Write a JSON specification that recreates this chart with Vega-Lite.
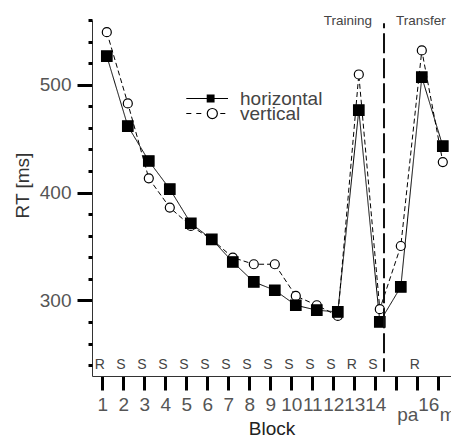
{
  "$schema": "https://vega.github.io/schema/vega-lite/v6.json",
  "width": 359,
  "height": 356,
  "autosize": {"type": "none"},
  "padding": {"left": 92, "top": 20, "right": 0, "bottom": 61},
  "config": {
    "font": "Liberation Sans",
    "view": {"stroke": null},
    "axis": {"grid": false, "labelFont": "Liberation Sans", "titleFont": "Liberation Sans"}
  },
  "datasets": {
    "rt": [
      {"series": "vertical", "block": 1, "rt": 548.7},
      {"series": "vertical", "block": 2, "rt": 482.7},
      {"series": "vertical", "block": 3, "rt": 413.2},
      {"series": "vertical", "block": 4, "rt": 386.1},
      {"series": "vertical", "block": 5, "rt": 369.1},
      {"series": "vertical", "block": 6, "rt": 356.7},
      {"series": "vertical", "block": 7, "rt": 339.8},
      {"series": "vertical", "block": 8, "rt": 333.6},
      {"series": "vertical", "block": 9, "rt": 333.6},
      {"series": "vertical", "block": 10, "rt": 304.2},
      {"series": "vertical", "block": 11, "rt": 295.6},
      {"series": "vertical", "block": 12, "rt": 285.7},
      {"series": "vertical", "block": 13, "rt": 509.5},
      {"series": "vertical", "block": 14, "rt": 291.9},
      {"series": "vertical", "block": 15, "rt": 350.5},
      {"series": "vertical", "block": 16, "rt": 531.8},
      {"series": "vertical", "block": 17, "rt": 428.3},
      {"series": "horizontal", "block": 1, "rt": 526.5},
      {"series": "horizontal", "block": 2, "rt": 461.7},
      {"series": "horizontal", "block": 3, "rt": 429.3},
      {"series": "horizontal", "block": 4, "rt": 403.3},
      {"series": "horizontal", "block": 5, "rt": 371.6},
      {"series": "horizontal", "block": 6, "rt": 356.7},
      {"series": "horizontal", "block": 7, "rt": 335.7},
      {"series": "horizontal", "block": 8, "rt": 317.2},
      {"series": "horizontal", "block": 9, "rt": 309.5},
      {"series": "horizontal", "block": 10, "rt": 295.6},
      {"series": "horizontal", "block": 11, "rt": 291.0},
      {"series": "horizontal", "block": 12, "rt": 289.4},
      {"series": "horizontal", "block": 13, "rt": 476.5},
      {"series": "horizontal", "block": 14, "rt": 280.2},
      {"series": "horizontal", "block": 15, "rt": 312.6},
      {"series": "horizontal", "block": 16, "rt": 507.0},
      {"series": "horizontal", "block": 17, "rt": 443.1}
    ],
    "codes": [
      {"block": 1, "code": "R"},
      {"block": 2, "code": "S"},
      {"block": 3, "code": "S"},
      {"block": 4, "code": "S"},
      {"block": 5, "code": "S"},
      {"block": 6, "code": "S"},
      {"block": 7, "code": "S"},
      {"block": 8, "code": "S"},
      {"block": 9, "code": "S"},
      {"block": 10, "code": "S"},
      {"block": 11, "code": "S"},
      {"block": 12, "code": "S"},
      {"block": 13, "code": "R"},
      {"block": 14, "code": "S"},
      {"block": 16, "code": "R"}
    ],
    "phases": [
      {"phase": "Training", "boundary": 14.2},
      {"phase": "Transfer", "boundary": 14.2}
    ]
  },
  "layer": [
    {
      "data": {"name": "rt"},
      "mark": {"type": "line", "color": "black", "strokeWidth": 1},
      "encoding": {
        "x": {
          "field": "block", "type": "quantitative",
          "scale": {"domain": [0.295, 17.39], "nice": false, "zero": false},
          "axis": {
            "values": [1,2,3,4,5,6,7,8,9,10,11,12,13,14,15,16,17],
            "labelExpr": "datum.value == 15 ? 'pa' : datum.value == 17 ? 'mi' : datum.label",
            "tickSize": 14, "tickWidth": 3, "tickColor": "black", "tickOffset": -4.5,
            "labelPadding": {"condition": {"test": "datum.value == 15 || datum.value == 17", "value": 15}, "value": 5},
            "labelOffset": {"condition": {"test": "datum.value >= 15", "value": 11}, "value": 0},
            "labelFontSize": 19, "labelColor": "#555",
            "labelFlush": false, "labelOverlap": false, "labelBound": false,
            "domainColor": "#333", "domainWidth": 1,
            "title": "Block", "titleFontSize": 19, "titleFontWeight": "normal", "titleColor": "#222",
            "titleBaseline": "alphabetic", "titleY": 58
          }
        },
        "y": {
          "field": "rt", "type": "quantitative",
          "scale": {"domain": [230, 560], "nice": false, "zero": false},
          "axis": {
            "orient": "left",
            "values": [300, 400, 500],
            "tickSize": 15, "tickWidth": 3, "tickColor": "black",
            "labelFontSize": 19, "labelColor": "#555", "labelPadding": 6,
            "domainColor": "#333", "domainWidth": 1,
            "title": "RT [ms]", "titleFontSize": 19, "titleFontWeight": "normal", "titleColor": "#333",
            "titleX": -63.7, "titleY": 165, "titleBaseline": "alphabetic", "titleAngle": 270, "titleAlign": "center"
          }
        },
        "strokeDash": {
          "field": "series", "type": "nominal",
          "scale": {"domain": ["horizontal", "vertical"], "range": [[1, 0], [5, 3]]},
          "legend": null
        }
      }
    },
    {
      "data": {"name": "rt"},
      "mark": {"type": "point", "filled": true, "stroke": "black", "strokeWidth": 1.2, "opacity": 1},
      "encoding": {
        "x": {"field": "block", "type": "quantitative", "axis": null},
        "y": {"field": "rt", "type": "quantitative", "axis": null},
        "shape": {"field": "series", "type": "nominal", "scale": {"domain": ["horizontal", "vertical"], "range": ["square", "circle"]}, "legend": null},
        "fill": {"field": "series", "type": "nominal", "scale": {"domain": ["horizontal", "vertical"], "range": ["black", "white"]}, "legend": null},
        "size": {"field": "series", "type": "nominal", "scale": {"domain": ["horizontal", "vertical"], "range": [110, 81]}, "legend": null}
      }
    },
    {
      "data": {"name": "rt"},
      "transform": [{"filter": "false"}],
      "mark": {"type": "point", "filled": false, "color": "black", "strokeWidth": 1.2, "opacity": 1, "size": 225},
      "encoding": {
        "x": {"field": "block", "type": "quantitative", "axis": null},
        "y": {"field": "rt", "type": "quantitative", "axis": null},
        "shape": {
          "field": "series", "type": "nominal",
          "scale": {"domain": ["horizontal"], "range": [
            "M-5.36,0H0.2M-2.56,-0.45H-1.67V0.45H-2.56ZM-2.56,-0.3H-1.67M-2.56,-0.15H-1.67M-2.56,0.15H-1.67M-2.56,0.3H-1.67"
          ]},
          "legend": {
            "orient": "none", "legendX": 125, "legendY": 69, "title": null, "padding": 0, "offset": 0,
            "labelFontSize": 19, "labelColor": "#444", "labelFont": "Liberation Sans", "labelOffset": 4,
            "symbolSize": 225, "symbolStrokeWidth": 1.2, "symbolStrokeColor": "black", "symbolFillColor": "transparent"
          }
        }
      }
    },
    {
      "data": {"name": "rt"},
      "transform": [{"filter": "false"}],
      "mark": {"type": "point", "filled": false, "color": "black", "strokeWidth": 1.2, "opacity": 1, "size": 225},
      "encoding": {
        "x": {"field": "block", "type": "quantitative", "axis": null},
        "y": {"field": "rt", "type": "quantitative", "axis": null},
        "shape": {
          "field": "series", "type": "nominal",
          "scale": {"domain": ["vertical"], "range": [
            "M-5.36,0H-4.69M-4.03,0H-3.36M-1.22,0A0.67,0.67 0 1,1 -2.56,0A0.67,0.67 0 1,1 -1.22,0ZM-0.83,0H-0.16"
          ]},
          "legend": {
            "orient": "none", "legendX": 125, "legendY": 84, "title": null, "padding": 0, "offset": 0,
            "labelFontSize": 19, "labelColor": "#444", "labelFont": "Liberation Sans", "labelOffset": 4,
            "symbolSize": 225, "symbolStrokeWidth": 1.2, "symbolStrokeColor": "black", "symbolFillColor": "transparent"
          }
        }
      }
    },
    {
      "data": {"name": "phases"},
      "transform": [{"filter": "datum.phase == 'Training'"}],
      "mark": {"type": "rule", "strokeDash": [20, 5], "strokeDashOffset": 15, "strokeWidth": 2, "color": "#111"},
      "encoding": {
        "x": {"field": "boundary", "type": "quantitative", "axis": null},
        "y": {
          "datum": 557, "type": "quantitative",
          "axis": {
            "orient": "left",
            "values": [240, 260, 280, 320, 340, 360, 380, 420, 440, 460, 480, 520, 540, 560],
            "tickSize": 4, "tickWidth": 3, "tickColor": "black",
            "labels": false, "domain": false, "title": null
          }
        },
        "y2": {"datum": 234}
      }
    },
    {
      "data": {"name": "codes"},
      "mark": {"type": "text", "fontSize": 14, "color": "#444", "dx": -7, "baseline": "middle", "font": "Liberation Sans"},
      "encoding": {
        "x": {"field": "block", "type": "quantitative", "axis": null},
        "y": {"datum": 240.5, "type": "quantitative", "axis": null},
        "text": {"field": "code"}
      }
    },
    {
      "data": {"name": "phases"},
      "transform": [{"filter": "datum.phase == 'Training'"}],
      "mark": {"type": "text", "fontSize": 13.5, "color": "#444", "align": "right", "dx": -12, "baseline": "middle", "font": "Liberation Sans"},
      "encoding": {
        "x": {"field": "boundary", "type": "quantitative", "axis": null},
        "y": {"datum": 559, "type": "quantitative", "axis": null},
        "text": {"field": "phase"}
      }
    },
    {
      "data": {"name": "phases"},
      "transform": [{"filter": "datum.phase == 'Transfer'"}],
      "mark": {"type": "text", "fontSize": 13.5, "color": "#444", "align": "left", "dx": 12, "baseline": "middle", "font": "Liberation Sans"},
      "encoding": {
        "x": {"field": "boundary", "type": "quantitative", "axis": null},
        "y": {"datum": 559, "type": "quantitative", "axis": null},
        "text": {"field": "phase"}
      }
    }
  ],
  "resolve": {
    "scale": {"shape": "independent", "fill": "independent", "size": "independent"},
    "axis": {"x": "independent", "y": "independent"}
  }
}
